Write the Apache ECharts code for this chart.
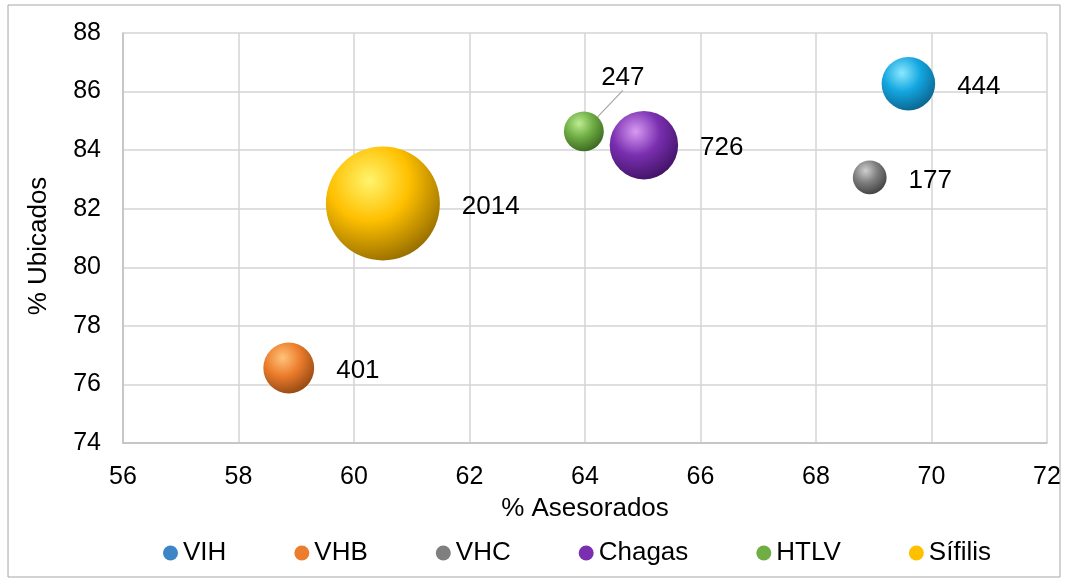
<!DOCTYPE html>
<html><head><meta charset="utf-8">
<script src="https://cdn.jsdelivr.net/npm/echarts@6/dist/echarts.min.js"></script>
<style>html,body{margin:0;padding:0;background:#fff}#c{width:1066px;height:582px}</style>
</head><body><div id="c"></div>
<script>
const categories = ['VIH','VHB','VHC','Chagas','HTLV','Sífilis'];
const asesorados = [69.6, 58.87, 68.93, 65.02, 63.98, 60.5];
const ubicados = [86.27, 76.56, 83.07, 84.17, 84.64, 82.18];
const casos = [444, 401, 177, 726, 247, 2014];
const xTicks = [56,58,60,62,64,66,68,70,72];
const yTicks = [74,76,78,80,82,84,86,88];

const palette = {
  'VIH':    ['#8ae8ff','#14a6e0','#0a5d85'],
  'VHB':    ['#ffc37a','#ec7d2c','#8a4210'],
  'VHC':    ['#cfcfcf','#7f7f7f','#3a3a3a'],
  'Chagas': ['#d89af2','#7a2fb0','#3a0f5c'],
  'HTLV':   ['#bdec92','#6fae45','#355e1c'],
  'Sífilis':['#fff46e','#ffc000','#8a6400']
};
const legendColor = {'VIH':'#3d85c6','VHB':'#ec7d2c','VHC':'#7f7f7f','Chagas':'#7a2fb0','HTLV':'#6fae45','Sífilis':'#ffc000'};

function grad(c){
  return {type:'radial', x:0.38, y:0.3, r:0.78, colorStops:[
    {offset:0,color:c[0]},{offset:0.45,color:c[1]},{offset:1,color:c[2]}]};
}
const FONT = 'Liberation Sans, Arial, sans-serif';

const series = categories.map((name,i)=>{
  const s = {
    name, type:'scatter',
    data:[[asesorados[i], ubicados[i], casos[i]]],
    symbolSize: d => 2.54*Math.sqrt(d[2]),
    itemStyle:{color:grad(palette[name]), opacity:1},
    label:{show:true, position:'right', distance:22, offset:[0,3], formatter: p=>String(p.data[2]),
      color:'#000', fontSize:26, fontFamily:FONT},
    emphasis:{disabled:true}
  };
  if(name==='HTLV'){
    s.label.position='inside';
    s.label.offset=[0,0];
    s.labelLayout={dx:39, dy:-54};
    s.labelLine={show:true, lineStyle:{color:'#a6a6a6', width:1.2}};
  }
  return s;
});

const chart = echarts.init(document.getElementById('c'));
chart.setOption({
  animation:false,
  backgroundColor:'#fff',
  textStyle:{fontFamily:FONT},
  graphic:[{type:'rect', shape:{x:8,y:5,width:1052,height:572}, style:{fill:'none', stroke:'#a6a6a6', lineWidth:1}, silent:true}],
  grid:{left:123, right:19, top:33, bottom:139},
  xAxis:{type:'value', min:56, max:72, interval:2,
    name:'% Asesorados', nameLocation:'middle', nameGap:53,
    nameTextStyle:{fontSize:26, color:'#000'},
    axisLine:{show:true, lineStyle:{color:'#bfbfbf', width:1.5}},
    axisTick:{show:false},
    axisLabel:{fontSize:25, color:'#000', margin:22},
    splitLine:{show:true, lineStyle:{color:'#d4d4d4', width:1.5}}},
  yAxis:{type:'value', min:74, max:88, interval:2,
    name:'% Ubicados', nameLocation:'middle', nameGap:71,
    nameTextStyle:{fontSize:26, color:'#000', padding:[0,16,0,0]},
    axisLine:{show:true, lineStyle:{color:'#bfbfbf', width:1.5}},
    axisTick:{show:false},
    axisLabel:{fontSize:25, color:'#000', margin:22},
    splitLine:{show:true, lineStyle:{color:'#d4d4d4', width:1.5}}},
  legend:{
    bottom:11, left:158, itemGap:68, itemWidth:15, itemHeight:15,
    icon:'circle',
    textStyle:{fontSize:26, color:'#000'},
    data: categories.map(n=>({name:n, itemStyle:{color:legendColor[n]}}))
  },
  series
});
</script></body></html>
